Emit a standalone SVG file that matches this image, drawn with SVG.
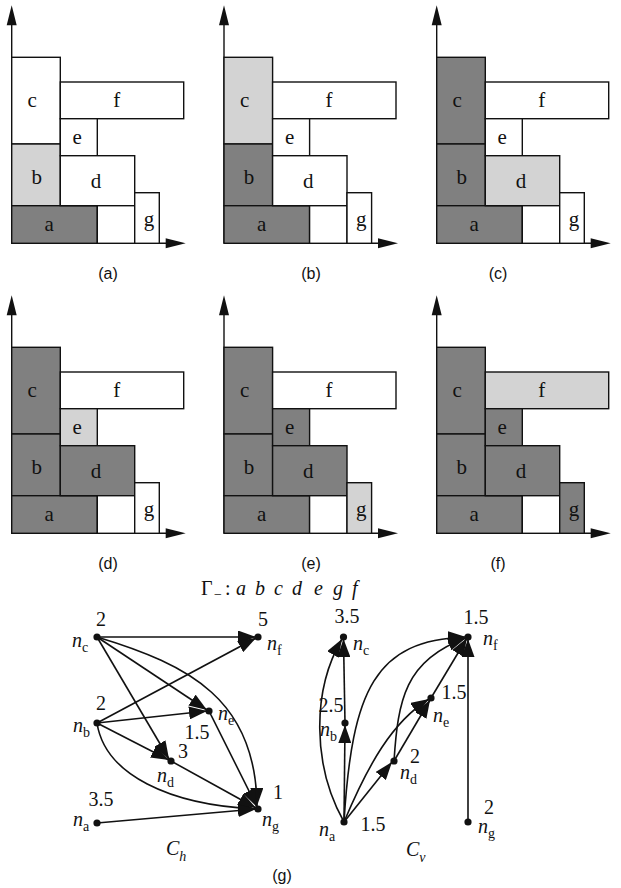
<svg xmlns="http://www.w3.org/2000/svg" width="621" height="888" viewBox="0 0 621 888">
<style>
.bx{stroke:#111;stroke-width:1.4}
.w{fill:#fff}.D{fill:#808080}.L{fill:#d3d3d3}
.ax{stroke:#111;stroke-width:1.4;fill:none}
.ah{fill:#111}
.pl{font-family:"Liberation Serif",serif;font-size:21px;text-anchor:middle;fill:#111}
.cap{font-family:"Liberation Sans",Arial,sans-serif;font-size:16px;text-anchor:middle;fill:#111}
.gt{font-family:"Liberation Serif",serif;font-size:20px;fill:#111}
.num{text-anchor:middle}
.it{font-style:italic}
.sb{font-size:14px}
.e{stroke:#111;stroke-width:1.6;fill:none;marker-end:url(#arr)}
.nd{fill:#111}
</style>
<defs>
<marker id="arr" markerUnits="userSpaceOnUse" markerWidth="19" markerHeight="13" refX="18" refY="6.5" orient="auto">
<path d="M0,0 L18,6.5 L0,13 z" fill="#111"/>
</marker>
<g id="axes">
<line class="ax" x1="0" y1="0" x2="0" y2="-220"/>
<polygon class="ah" points="0,-238 -5,-218 5,-218"/>
<line class="ax" x1="0" y1="0" x2="157" y2="0"/>
<polygon class="ah" points="174,0 154,-5 154,5"/>
</g>
</defs>

<!-- panel (a) -->
<g id="panel-a" transform="translate(11.7,243.3)">
<use href="#axes"/>
<g id="a-c"><rect class="bx w" x="0" y="-186" width="48.6" height="86.7"/><text class="pl" x="20.6" y="-136">c</text></g>
<g id="a-b"><rect class="bx L" x="0" y="-99.3" width="48.6" height="61.7"/><text class="pl" x="25" y="-59">b</text></g>
<g id="a-a"><rect class="bx D" x="0" y="-37.6" width="85.6" height="37.6"/><text class="pl" x="37.6" y="-12">a</text></g>
<g id="a-f"><rect class="bx w" x="48.6" y="-161.3" width="123.4" height="36.7"/><text class="pl" x="105" y="-136">f</text></g>
<g id="a-e"><rect class="bx w" x="48.6" y="-124.6" width="37" height="37"/><text class="pl" x="65.6" y="-99.5">e</text></g>
<g id="a-d"><rect class="bx w" x="48.6" y="-87.6" width="74.4" height="50"/><text class="pl" x="84.3" y="-55">d</text></g>
<g id="a-x"><rect class="bx w" x="85.6" y="-37.6" width="37.4" height="37.6"/></g>
<g id="a-g"><rect class="bx w" x="123" y="-50.6" width="24.6" height="50.6"/><text class="pl" x="137.3" y="-17">g</text></g>
</g>
<text class="cap" x="108" y="279">(a)</text>

<!-- panel (b) -->
<g id="panel-b" transform="translate(224,243.3)">
<use href="#axes"/>
<g id="b-c"><rect class="bx L" x="0" y="-186" width="48.6" height="86.7"/><text class="pl" x="20.6" y="-136">c</text></g>
<g id="b-b"><rect class="bx D" x="0" y="-99.3" width="48.6" height="61.7"/><text class="pl" x="25" y="-59">b</text></g>
<g id="b-a"><rect class="bx D" x="0" y="-37.6" width="85.6" height="37.6"/><text class="pl" x="37.6" y="-12">a</text></g>
<g id="b-f"><rect class="bx w" x="48.6" y="-161.3" width="123.4" height="36.7"/><text class="pl" x="105" y="-136">f</text></g>
<g id="b-e"><rect class="bx w" x="48.6" y="-124.6" width="37" height="37"/><text class="pl" x="65.6" y="-99.5">e</text></g>
<g id="b-d"><rect class="bx w" x="48.6" y="-87.6" width="74.4" height="50"/><text class="pl" x="84.3" y="-55">d</text></g>
<g id="b-x"><rect class="bx w" x="85.6" y="-37.6" width="37.4" height="37.6"/></g>
<g id="b-g"><rect class="bx w" x="123" y="-50.6" width="24.6" height="50.6"/><text class="pl" x="137.3" y="-17">g</text></g>
</g>
<text class="cap" x="311" y="279">(b)</text>

<!-- panel (c) -->
<g id="panel-c" transform="translate(436.7,243.3)">
<use href="#axes"/>
<g id="c-c"><rect class="bx D" x="0" y="-186" width="48.6" height="86.7"/><text class="pl" x="20.6" y="-136">c</text></g>
<g id="c-b"><rect class="bx D" x="0" y="-99.3" width="48.6" height="61.7"/><text class="pl" x="25" y="-59">b</text></g>
<g id="c-a"><rect class="bx D" x="0" y="-37.6" width="85.6" height="37.6"/><text class="pl" x="37.6" y="-12">a</text></g>
<g id="c-f"><rect class="bx w" x="48.6" y="-161.3" width="123.4" height="36.7"/><text class="pl" x="105" y="-136">f</text></g>
<g id="c-e"><rect class="bx w" x="48.6" y="-124.6" width="37" height="37"/><text class="pl" x="65.6" y="-99.5">e</text></g>
<g id="c-d"><rect class="bx L" x="48.6" y="-87.6" width="74.4" height="50"/><text class="pl" x="84.3" y="-55">d</text></g>
<g id="c-x"><rect class="bx w" x="85.6" y="-37.6" width="37.4" height="37.6"/></g>
<g id="c-g"><rect class="bx w" x="123" y="-50.6" width="24.6" height="50.6"/><text class="pl" x="137.3" y="-17">g</text></g>
</g>
<text class="cap" x="498" y="279">(c)</text>

<!-- panel (d) -->
<g id="panel-d" transform="translate(11.7,533.3)">
<use href="#axes"/>
<g id="d-c"><rect class="bx D" x="0" y="-186" width="48.6" height="86.7"/><text class="pl" x="20.6" y="-136">c</text></g>
<g id="d-b"><rect class="bx D" x="0" y="-99.3" width="48.6" height="61.7"/><text class="pl" x="25" y="-59">b</text></g>
<g id="d-a"><rect class="bx D" x="0" y="-37.6" width="85.6" height="37.6"/><text class="pl" x="37.6" y="-12">a</text></g>
<g id="d-f"><rect class="bx w" x="48.6" y="-161.3" width="123.4" height="36.7"/><text class="pl" x="105" y="-136">f</text></g>
<g id="d-e"><rect class="bx L" x="48.6" y="-124.6" width="37" height="37"/><text class="pl" x="65.6" y="-99.5">e</text></g>
<g id="d-d"><rect class="bx D" x="48.6" y="-87.6" width="74.4" height="50"/><text class="pl" x="84.3" y="-55">d</text></g>
<g id="d-x"><rect class="bx w" x="85.6" y="-37.6" width="37.4" height="37.6"/></g>
<g id="d-g"><rect class="bx w" x="123" y="-50.6" width="24.6" height="50.6"/><text class="pl" x="137.3" y="-17">g</text></g>
</g>
<text class="cap" x="108" y="569">(d)</text>

<!-- panel (e) -->
<g id="panel-e" transform="translate(224,533.3)">
<use href="#axes"/>
<g id="e-c"><rect class="bx D" x="0" y="-186" width="48.6" height="86.7"/><text class="pl" x="20.6" y="-136">c</text></g>
<g id="e-b"><rect class="bx D" x="0" y="-99.3" width="48.6" height="61.7"/><text class="pl" x="25" y="-59">b</text></g>
<g id="e-a"><rect class="bx D" x="0" y="-37.6" width="85.6" height="37.6"/><text class="pl" x="37.6" y="-12">a</text></g>
<g id="e-f"><rect class="bx w" x="48.6" y="-161.3" width="123.4" height="36.7"/><text class="pl" x="105" y="-136">f</text></g>
<g id="e-e"><rect class="bx D" x="48.6" y="-124.6" width="37" height="37"/><text class="pl" x="65.6" y="-99.5">e</text></g>
<g id="e-d"><rect class="bx D" x="48.6" y="-87.6" width="74.4" height="50"/><text class="pl" x="84.3" y="-55">d</text></g>
<g id="e-x"><rect class="bx w" x="85.6" y="-37.6" width="37.4" height="37.6"/></g>
<g id="e-g"><rect class="bx L" x="123" y="-50.6" width="24.6" height="50.6"/><text class="pl" x="137.3" y="-17">g</text></g>
</g>
<text class="cap" x="311" y="569">(e)</text>

<!-- panel (f) -->
<g id="panel-f" transform="translate(436.7,533.3)">
<use href="#axes"/>
<g id="f-c"><rect class="bx D" x="0" y="-186" width="48.6" height="86.7"/><text class="pl" x="20.6" y="-136">c</text></g>
<g id="f-b"><rect class="bx D" x="0" y="-99.3" width="48.6" height="61.7"/><text class="pl" x="25" y="-59">b</text></g>
<g id="f-a"><rect class="bx D" x="0" y="-37.6" width="85.6" height="37.6"/><text class="pl" x="37.6" y="-12">a</text></g>
<g id="f-f"><rect class="bx L" x="48.6" y="-161.3" width="123.4" height="36.7"/><text class="pl" x="105" y="-136">f</text></g>
<g id="f-e"><rect class="bx D" x="48.6" y="-124.6" width="37" height="37"/><text class="pl" x="65.6" y="-99.5">e</text></g>
<g id="f-d"><rect class="bx D" x="48.6" y="-87.6" width="74.4" height="50"/><text class="pl" x="84.3" y="-55">d</text></g>
<g id="f-x"><rect class="bx w" x="85.6" y="-37.6" width="37.4" height="37.6"/></g>
<g id="f-g"><rect class="bx D" x="123" y="-50.6" width="24.6" height="50.6"/><text class="pl" x="137.3" y="-17">g</text></g>
</g>
<text class="cap" x="498" y="569">(f)</text>

<!-- sequence line -->
<text class="gt" y="595"><tspan x="201">Γ</tspan><tspan class="sb" x="214" dy="4">−</tspan><tspan x="225" dy="-4">:</tspan><tspan class="it" x="236">a</tspan><tspan class="it" x="255">b</tspan><tspan class="it" x="274">c</tspan><tspan class="it" x="292">d</tspan><tspan class="it" x="314">e</tspan><tspan class="it" x="333">g</tspan><tspan class="it" x="352">f</tspan></text>

<!-- connectors -->
<g id="connectors">
<!-- C_h -->
<path class="e" d="M97,637 L256,637"/>
<path class="e" d="M97,637 L207,710"/>
<path class="e" d="M97,637 L169,759"/>
<path class="e" d="M97,637 C190,665 256,700 257,806"/>
<path class="e" d="M97,723 L256,638"/>
<path class="e" d="M97,723 L207,711"/>
<path class="e" d="M97,723 L169,760"/>
<path class="e" d="M97,723 C105,775 170,805 256,809"/>
<path class="e" d="M171,761 L256,808"/>
<path class="e" d="M209,711 L257,807"/>
<path class="e" d="M97,823 L256,809"/>
<!-- C_v -->
<path class="e" d="M344,822 L345,725"/>
<path class="e" d="M345,723 L343.5,639"/>
<path class="e" d="M344,822 C312,765 312,690 342,639"/>
<path class="e" d="M344,822 C352,690 375,640 466,637"/>
<path class="e" d="M344,822 C368,765 392,722 429,699"/>
<path class="e" d="M344,822 L392,762"/>
<path class="e" d="M394,761 L430,700"/>
<path class="e" d="M394,761 C398,700 405,660 466,638"/>
<path class="e" d="M431,698 L467,638"/>
<path class="e" d="M468,822 L468,639"/>
</g>

<!-- C_h nodes -->
<g id="Ch-nc"><circle class="nd" cx="97" cy="637" r="3.6"/><text class="gt num" x="101" y="626">2</text><text class="gt" x="72" y="647"><tspan class="it">n</tspan><tspan class="sb" dy="5">c</tspan></text></g>
<g id="Ch-nf"><circle class="nd" cx="258" cy="637" r="3.6"/><text class="gt num" x="263" y="626">5</text><text class="gt" x="267" y="650"><tspan class="it">n</tspan><tspan class="sb" dy="5">f</tspan></text></g>
<g id="Ch-nb"><circle class="nd" cx="97" cy="723" r="3.6"/><text class="gt num" x="101" y="710">2</text><text class="gt" x="73" y="732"><tspan class="it">n</tspan><tspan class="sb" dy="5">b</tspan></text></g>
<g id="Ch-ne"><circle class="nd" cx="209" cy="711" r="3.6"/><text class="gt num" x="197" y="739">1.5</text><text class="gt" x="218" y="720"><tspan class="it">n</tspan><tspan class="sb" dy="5">e</tspan></text></g>
<g id="Ch-nd"><circle class="nd" cx="171" cy="761" r="3.6"/><text class="gt num" x="183" y="758">3</text><text class="gt" x="157" y="782"><tspan class="it">n</tspan><tspan class="sb" dy="5">d</tspan></text></g>
<g id="Ch-na"><circle class="nd" cx="97" cy="823" r="3.6"/><text class="gt num" x="101" y="806">3.5</text><text class="gt" x="73" y="826"><tspan class="it">n</tspan><tspan class="sb" dy="5">a</tspan></text></g>
<g id="Ch-ng"><circle class="nd" cx="258" cy="809" r="3.6"/><text class="gt num" x="278" y="799">1</text><text class="gt" x="262" y="826"><tspan class="it">n</tspan><tspan class="sb" dy="5">g</tspan></text></g>
<text class="gt it" x="166" y="855">C<tspan class="sb" dy="6">h</tspan></text>

<!-- C_v nodes -->
<g id="Cv-nc"><circle class="nd" cx="343.5" cy="637" r="3.6"/><text class="gt num" x="347" y="623">3.5</text><text class="gt" x="353" y="650"><tspan class="it">n</tspan><tspan class="sb" dy="5">c</tspan></text></g>
<g id="Cv-nf"><circle class="nd" cx="468" cy="637" r="3.6"/><text class="gt num" x="476" y="624">1.5</text><text class="gt" x="483" y="645"><tspan class="it">n</tspan><tspan class="sb" dy="5">f</tspan></text></g>
<g id="Cv-nb"><circle class="nd" cx="345" cy="723" r="3.6"/><text class="gt num" x="331" y="712">2.5</text><text class="gt" x="320" y="736"><tspan class="it">n</tspan><tspan class="sb" dy="5">b</tspan></text></g>
<g id="Cv-ne"><circle class="nd" cx="431" cy="698" r="3.6"/><text class="gt num" x="454" y="699">1.5</text><text class="gt" x="433" y="722"><tspan class="it">n</tspan><tspan class="sb" dy="5">e</tspan></text></g>
<g id="Cv-nd"><circle class="nd" cx="394" cy="761" r="3.6"/><text class="gt num" x="415" y="763">2</text><text class="gt" x="400" y="779"><tspan class="it">n</tspan><tspan class="sb" dy="5">d</tspan></text></g>
<g id="Cv-na"><circle class="nd" cx="344" cy="822" r="3.6"/><text class="gt num" x="373" y="831">1.5</text><text class="gt" x="319" y="836"><tspan class="it">n</tspan><tspan class="sb" dy="5">a</tspan></text></g>
<g id="Cv-ng"><circle class="nd" cx="468" cy="822" r="3.6"/><text class="gt num" x="489" y="814">2</text><text class="gt" x="478" y="833"><tspan class="it">n</tspan><tspan class="sb" dy="5">g</tspan></text></g>
<text class="gt it" x="406" y="856">C<tspan class="sb" dy="6">v</tspan></text>

<text class="cap" x="282" y="881">(g)</text>
</svg>
